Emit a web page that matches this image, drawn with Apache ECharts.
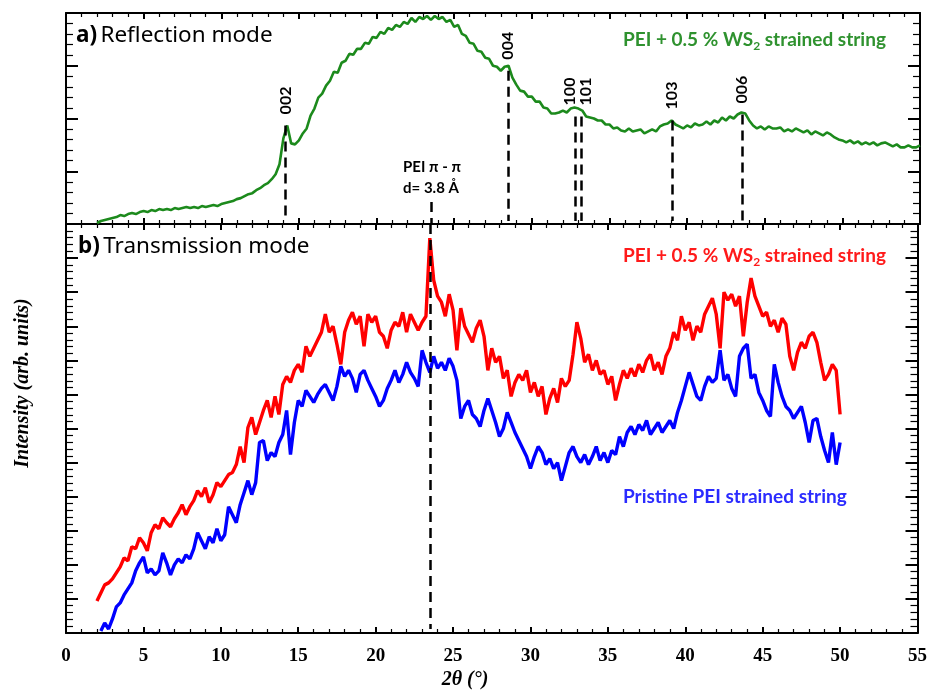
<!DOCTYPE html>
<html>
<head>
<meta charset="utf-8">
<script src="https://cdn.jsdelivr.net/npm/echarts@6/dist/echarts.min.js"></script>
<style>
  html, body { margin: 0; padding: 0; background: #fff; }
  #xrd { width: 930px; height: 691px; }
</style>
</head>
<body>
<div id="xrd"></div>
<script>
// scan grid: 2theta from 2 deg, 0.25 deg steps
const thetaStart = 2;
const thetaStep = 0.25;

// a) reflection mode, PEI + 0.5 % WS2 (2 .. 55 deg), one row per degree
const reflection = [
  1, 3, 4, 5,
  6, 7, 9, 8,
  10, 11, 10, 12,
  13, 12, 14, 13,
  15, 14, 15, 14,
  16, 15, 16, 17,
  16, 17, 16, 18,
  17, 18, 19, 18,
  20, 21, 22, 23,
  25, 26, 28, 30,
  31, 34, 36, 39,
  41, 45, 50, 60,
  86, 99, 81, 80,
  84, 91, 96, 109,
  116, 127, 131, 139,
  144, 153, 152, 162,
  164, 171, 170, 176,
  176, 182, 181, 188,
  187, 193, 191, 197,
  195, 200, 198, 203,
  201, 207, 203, 208,
  206, 209, 205, 209,
  206, 208, 203, 205,
  198, 200, 191, 189,
  182, 181, 174, 173,
  167, 166, 159, 158,
  154, 158, 159, 147,
  140, 134, 133, 128,
  128, 123, 123, 117,
  116, 111, 111, 112,
  114, 112, 116, 117,
  116, 114, 108, 107,
  106, 104, 104, 100,
  100, 96, 97, 94,
  93, 96, 93, 94,
  95, 91, 93, 95,
  93, 98, 100, 101,
  104, 100, 98, 96,
  99, 97, 101, 99,
  100, 103, 100, 104,
  102, 107, 104, 108,
  106, 110, 112, 111,
  104, 99, 96, 98,
  95, 98, 96, 96,
  97, 93, 95, 93,
  96, 94, 92, 94,
  90, 93, 91, 89,
  92, 90, 87, 85,
  84, 82, 84, 81,
  83, 80, 82, 80,
  82, 79, 81, 82,
  80, 78, 80, 77,
  77, 79, 77, 77,
  79
];

// b) transmission mode, PEI + 0.5 % WS2 (2 .. 50 deg)
const transWS2 = [
  32, 40, 48, 50,
  54, 60, 66, 75,
  72, 86, 84, 95,
  90, 82, 100, 108,
  104, 115, 110, 106,
  114, 120, 128, 118,
  126, 132, 142, 136,
  145, 130, 138, 150,
  146, 152, 158, 160,
  168, 186, 170, 205,
  215, 198, 210, 222,
  232, 215, 236, 218,
  248, 256, 250, 262,
  268, 260, 286, 276,
  284, 292, 300, 318,
  300, 306, 288, 268,
  300, 312, 320, 308,
  316, 286, 318, 310,
  316, 300, 296, 284,
  302, 310, 306, 320,
  300, 318, 310, 302,
  310, 316, 394, 352,
  336, 330, 316, 338,
  322, 282, 324, 306,
  298, 290, 304, 312,
  296, 262, 284, 270,
  276, 254, 262, 236,
  250, 258, 252, 262,
  240, 250, 236, 246,
  218, 234, 244, 230,
  254, 246, 252, 278,
  310, 294, 270, 278,
  262, 272, 258, 262,
  248, 256, 232, 248,
  262, 254, 264, 256,
  268, 260, 272, 278,
  262, 270, 258, 276,
  284, 300, 292, 316,
  302, 310, 292, 306,
  300, 318, 326, 334,
  318, 284, 340, 332,
  338, 326, 336, 296,
  330, 354, 336, 326,
  316, 320, 306, 312,
  300, 314, 308, 276,
  262, 280, 290, 284,
  296, 300, 290, 270,
  252, 258, 268, 262,
  218
];

// b) transmission mode, pristine PEI (2 .. 50 deg)
const transPristine = [
  null, 2, 10, 4,
  14, 26, 30, 38,
  44, 50, 62, 70,
  76, 60, 64, 58,
  62, 80, 70, 58,
  68, 74, 70, 78,
  74, 84, 100, 92,
  84, 96, 90, 104,
  92, 98, 126, 118,
  110, 128, 140, 152,
  138, 150, 190, 192,
  172, 180, 176, 190,
  198, 222, 178, 210,
  232, 226, 242, 236,
  230, 238, 244, 248,
  240, 232, 246, 266,
  256, 262, 254, 240,
  258, 262, 252, 244,
  236, 226, 232, 244,
  252, 262, 250, 258,
  270, 260, 254, 246,
  282, 270, 260, 276,
  264, 270, 262, 274,
  266, 252, 214, 226,
  232, 218, 214, 206,
  222, 234, 222, 210,
  196, 204, 220, 210,
  200, 192, 184, 176,
  164, 176, 186, 180,
  168, 174, 164, 170,
  152, 166, 180, 186,
  176, 170, 178, 168,
  176, 186, 172, 180,
  170, 182, 178, 196,
  186, 200, 206, 198,
  208, 202, 212, 198,
  204, 210, 200, 206,
  212, 204, 220, 232,
  246, 260, 248, 236,
  232, 246, 256, 250,
  254, 282, 252, 258,
  244, 236, 276, 284,
  288, 254, 258, 240,
  232, 222, 216, 268,
  250, 236, 226, 222,
  214, 220, 226, 210,
  190, 212, 214, 196,
  182, 170, 200, 168,
  190
];

// WS2 reflections marked in panel a
const peakNames = ['002', '004', '100', '101', '103', '006'];
const peakTheta = [14.15, 28.45, 32.8, 33.2, 39.05, 43.55];
const peakTop = [99, 154, 108, 108, 104, 110];

// PEI pi-pi stacking
const piTheta = 23.55;

const black = '#000';
const serif = '"Liberation Serif", "DejaVu Serif", serif';
const sans = 'Lato, "Noto Sans", "DejaVu Sans", sans-serif';
const titleSans = '"Noto Sans", "Open Sans", sans-serif';

function toPairs(values) {
  return values.map((v, i) => [thetaStart + i * thetaStep, v]);
}

function xAxisFor(grid, pos, showLabel) {
  return {
    type: 'value', gridIndex: grid, position: pos,
    min: 0, max: 55, interval: 5,
    axisLine: { show: true, onZero: false, lineStyle: { color: black, width: 2 } },
    axisTick: { show: true, inside: true, length: 6, lineStyle: { color: black, width: 2 } },
    minorTick: { show: true, splitNumber: 5, length: 4, lineStyle: { color: black, width: 1.2 } },
    splitLine: { show: false },
    axisLabel: {
      show: showLabel, margin: 14, showMinLabel: true, showMaxLabel: true,
      color: black, fontFamily: serif, fontWeight: 'bold', fontSize: 19
    }
  };
}

function yAxisFor(grid, pos, max, interval) {
  return {
    type: 'value', gridIndex: grid, position: pos,
    min: 0, max: max, interval: interval,
    axisLine: { show: true, onZero: false, lineStyle: { color: black, width: 2 } },
    axisTick: { show: true, inside: true, length: 12, lineStyle: { color: black, width: 2 } },
    minorTick: { show: true, splitNumber: 5, length: 7, lineStyle: { color: black, width: 1.2 } },
    splitLine: { show: false },
    axisLabel: { show: false }
  };
}

function dashed(theta, from, to) {
  return [{ coord: [theta, from] }, { coord: [theta, to] }];
}

const dashStyle = { color: black, width: 2.5, type: [10, 6] };

const option = {
  animation: false,
  backgroundColor: '#fff',
  grid: [
    { left: 66, right: 10, top: 13, height: 211 },
    { left: 66, right: 10, top: 224, height: 409 }
  ],
  xAxis: [
    xAxisFor(0, 'bottom', false),
    xAxisFor(0, 'top', false),
    xAxisFor(1, 'bottom', true),
    xAxisFor(1, 'top', false)
  ],
  yAxis: [
    yAxisFor(0, 'left', 212, 53),
    yAxisFor(0, 'right', 212, 53),
    yAxisFor(1, 'left', 408, 34),
    yAxisFor(1, 'right', 408, 34)
  ],
  series: [
    {
      name: 'reflection', type: 'line', xAxisIndex: 0, yAxisIndex: 0,
      data: toPairs(reflection), showSymbol: false, symbol: 'none',
      lineStyle: { color: '#1c8a1c', width: 2.6 },
      markLine: {
        silent: true, symbol: ['none', 'none'], label: { show: false },
        lineStyle: dashStyle,
        data: peakTheta.map((t, i) => dashed(t, peakTop[i], 3)).concat([dashed(piTheta, 22, 0)])
      }
    },
    {
      name: 'pristine', type: 'line', xAxisIndex: 2, yAxisIndex: 2,
      data: toPairs(transPristine), showSymbol: false, symbol: 'none', connectNulls: false,
      lineStyle: { color: '#0000ff', width: 3.4 }
    },
    {
      name: 'ws2', type: 'line', xAxisIndex: 2, yAxisIndex: 2,
      data: toPairs(transWS2), showSymbol: false, symbol: 'none',
      lineStyle: { color: '#ff0000', width: 3.4 },
      markLine: {
        silent: true, symbol: ['none', 'none'], label: { show: false },
        lineStyle: dashStyle, z: 10,
        data: [dashed(piTheta, 408, 4)]
      }
    }
  ]
};

const chart = echarts.init(document.getElementById('xrd'));
chart.setOption(option);

function text(x, y, str, font, fill, extra) {
  return Object.assign({
    type: 'text', x: x, y: y, z: 100, silent: true,
    style: {
      text: str, font: font, fill: fill,
      align: 'center', verticalAlign: 'middle',
      textAlign: 'center', textVerticalAlign: 'middle'
    }
  }, extra || {});
}

function ws2Label(x, y, color) {
  return {
    type: 'text', x: x, y: y, z: 100, silent: true,
    style: {
      text: '{t|PEI + 0.5 % WS}{s|2}{t| strained string}',
      align: 'left', verticalAlign: 'middle', textAlign: 'left', textVerticalAlign: 'middle',
      rich: {
        t: { fontFamily: sans, fontWeight: 'bold', fontSize: 19, fill: color, color: color, lineHeight: 24, verticalAlign: 'middle' },
        s: { fontFamily: sans, fontWeight: 'bold', fontSize: 12, fill: color, color: color, lineHeight: 12, verticalAlign: 'bottom' }
      }
    }
  };
}

function panelTitle(x, y, tag, label) {
  return {
    type: 'text', x: x, y: y, z: 100, silent: true,
    style: {
      text: '{b|' + tag + '} {n|' + label + '}',
      align: 'left', verticalAlign: 'middle', textAlign: 'left', textVerticalAlign: 'middle',
      rich: {
        b: { fontFamily: titleSans, fontWeight: 'bold', fontSize: 22.5, fill: black, color: black },
        n: { fontFamily: titleSans, fontSize: 22.5, fill: black, color: black }
      }
    }
  };
}

const labelShift = { '100': -5, '101': 4 };
const peakLabels = peakNames.map((name, i) => {
  const p = chart.convertToPixel({ xAxisIndex: 0, yAxisIndex: 0 }, [peakTheta[i], peakTop[i]]);
  return text(p[0] + (labelShift[name] || 0), p[1] - 25, name,
    'bold 16px ' + sans, black, { rotation: Math.PI / 2 });
});

chart.setOption({
  graphic: [
    panelTitle(76, 36, 'a)', 'Reflection mode'),
    panelTitle(78, 247, 'b)', 'Transmission mode'),
    ws2Label(623, 40, '#2f922f'),
    ws2Label(623, 256, '#ff1a1a'),
    {
      type: 'text', x: 623, y: 497, z: 100, silent: true,
      style: {
        text: 'Pristine PEI strained string', font: 'bold 19px ' + sans, fill: '#2b2bff',
        align: 'left', verticalAlign: 'middle', textAlign: 'left', textVerticalAlign: 'middle'
      }
    },
    text(432, 167, 'PEI \u03c0 - \u03c0', 'bold 15px ' + sans, black),
    text(431, 188, 'd= 3.8 \u00c5', 'bold 15px ' + sans, black),
    text(465, 680, '2\u03b8 (\u00b0)', 'italic bold 20px ' + serif, black),
    text(23, 383, 'Intensity (arb. units)', 'italic bold 20px ' + serif, black, { rotation: Math.PI / 2 })
  ].concat(peakLabels)
});
</script>
</body>
</html>
